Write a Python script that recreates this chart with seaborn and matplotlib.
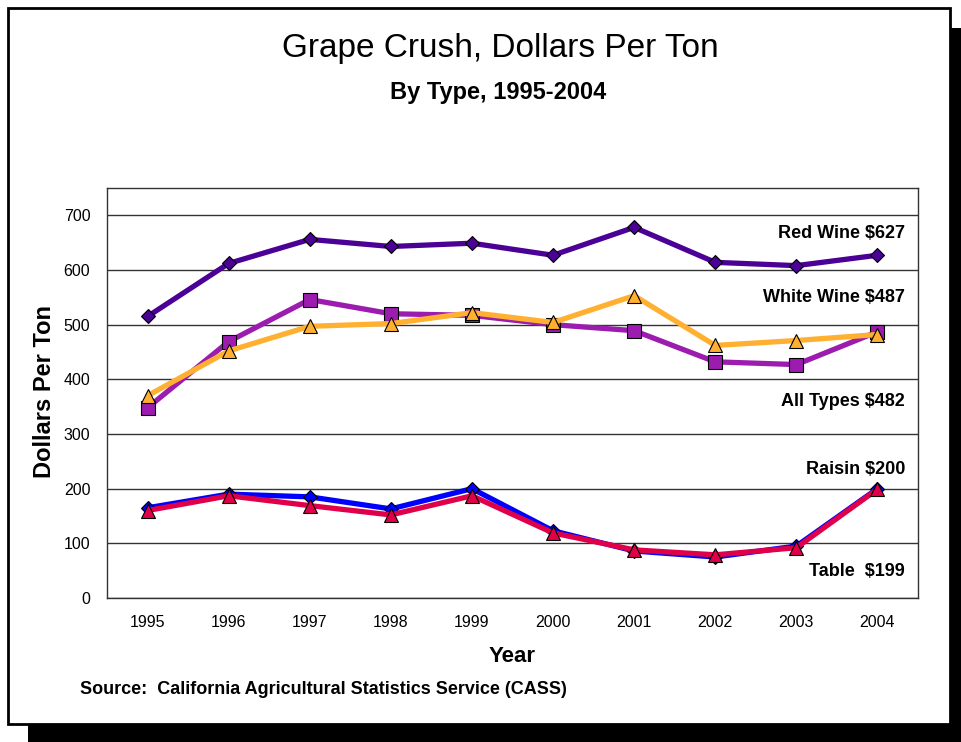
import pandas as pd
import numpy as np
import seaborn as sns
import matplotlib.pyplot as plt
from matplotlib.patches import Rectangle

years = ["1995", "1996", "1997", "1998", "1999", "2000", "2001", "2002", "2003", "2004"]
red_wine = [515, 612, 656, 643, 649, 627, 678, 614, 608, 627]
white_wine = [348, 469, 546, 520, 517, 500, 489, 432, 427, 487]
all_types = [370, 452, 497, 502, 522, 504, 553, 462, 471, 482]
raisin = [165, 190, 185, 163, 200, 123, 86, 75, 95, 200]
table = [160, 187, 169, 152, 187, 119, 88, 79, 92, 199]
series_names = ["Red Wine $627", "White Wine $487", "All Types $482", "Raisin $200", "Table  $199"]
yticks = [0, 100, 200, 300, 400, 500, 600, 700]

sns.set_style("white")
plt.rcParams['font.family'] = ['Liberation Sans', 'DejaVu Sans']
plt.rcParams['text.color'] = 'black'
plt.rcParams['xtick.color'] = 'black'
plt.rcParams['ytick.color'] = 'black'

fig = plt.figure(figsize=(9.61, 7.42), dpi=100)

# frame with drop shadow
fig.patches.append(Rectangle((28/961, 0), 933/961, (742-28)/742, transform=fig.transFigure,
                             facecolor="black", edgecolor="none", zorder=0))
fig.patches.append(Rectangle((8/961, (742-724)/742), 942/961, (724-8)/742, transform=fig.transFigure,
                             facecolor="white", edgecolor="black", linewidth=2, zorder=1))

ax = fig.add_axes([107/961, (742-598)/742, (918-107)/961, (598-188)/742])
ax.set_zorder(2)

pos = np.arange(len(years))
df = pd.DataFrame({"pos": pos, "red": red_wine, "white": white_wine, "all": all_types,
                   "raisin": raisin, "table": table})

styles = [
    ("red", "#4B0096", "D", 7),
    ("white", "#9B1CAE", "s", 10),
    ("all", "#FFB030", "^", 10),
    ("raisin", "#0000FF", "D", 7),
    ("table", "#E0004A", "^", 10),
]
for col, c, m, ms in styles:
    sns.lineplot(data=df, x="pos", y=col, ax=ax, color=c, linewidth=3.8, marker=m,
                 markersize=ms, markeredgecolor="black", markeredgewidth=0.8)

ax.set_xlim(-0.5, 9.5)
ax.set_ylim(0, 750)
ax.set_yticks(yticks)
ax.set_xticks(pos)
ax.set_xticklabels(years)
ax.tick_params(axis="both", length=0, labelsize=11.5, pad=12)
ax.yaxis.grid(True, color="#333333", linewidth=1)
ax.set_axisbelow(True)
for s in ax.spines.values():
    s.set_color("#333333")
    s.set_linewidth(1)
ax.set_xlabel("")
ax.set_ylabel("")

# series labels
label_y = [234, 297, 401, 469, 572]
for name, yp in zip(series_names, label_y):
    fig.text(905/961, (742-yp)/742, name, ha="right", va="center", fontsize=13, fontweight="bold")

fig.text(500/961, (742-48)/742, "Grape Crush, Dollars Per Ton", ha="center", va="center", fontsize=24)
fig.text(498/961, (742-92)/742, "By Type, 1995-2004", ha="center", va="center", fontsize=17, fontweight="bold")
fig.text(45/961, (742-392)/742, "Dollars Per Ton", ha="center", va="center", rotation=90,
         fontsize=17, fontweight="bold")
fig.text(512/961, (742-657)/742, "Year", ha="center", va="center", fontsize=16, fontweight="bold")
fig.text(80/961, (742-690)/742, "Source:  California Agricultural Statistics Service (CASS)",
         ha="left", va="center", fontsize=13, fontweight="bold")

plt.savefig("out.png", dpi=100)
